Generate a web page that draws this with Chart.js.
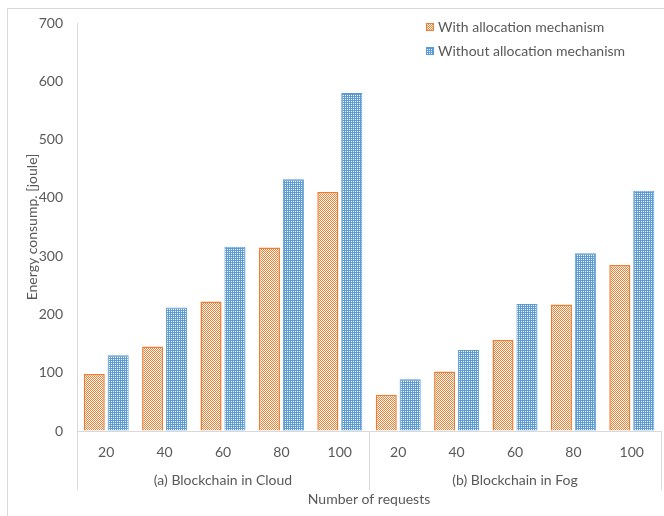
<!DOCTYPE html>
<html>
<head>
<meta charset="utf-8">
<script src="https://cdn.jsdelivr.net/npm/chart.js@4.4.1/dist/chart.umd.min.js"></script>
<style>
  body { margin: 0; background: #fff; }
</style>
</head>
<body>
<canvas id="energy" width="664" height="516"></canvas>
<script>
// number of requests, repeated for both deployments
const requests = ['20', '40', '60', '80', '100', '20', '40', '60', '80', '100'];
const groups = ['(a) Blockchain in Cloud', '(b) Blockchain in Fog'];
const with_alloc = [98, 145, 222, 315, 410, 62, 102, 156, 217, 285];
const without_alloc = [130, 212, 316, 432, 580, 89, 139, 218, 305, 412];

const text_color = '#595959';
const line_color = '#D9D9D9';
const orange = '#ED7D31';
const blue = '#5B9BD5';
const font = { family: 'Lato', size: 14 };

/**
 * Builds a small repeating fill pattern.
 *
 * @param {Number} w        tile width
 * @param {Number} h        tile height
 * @param {String} bg       tile background
 * @param {String} fg       dot colour
 * @param {Array}  dots     [x, y] pixels painted with fg
 */
function make_pattern(w, h, bg, fg, dots) {
    const tile = document.createElement('canvas');
    tile.width = w;
    tile.height = h;
    const c = tile.getContext('2d');
    c.fillStyle = bg;
    c.fillRect(0, 0, w, h);
    c.fillStyle = fg;
    dots.forEach(([x, y]) => c.fillRect(x, y, 1, 1));
    return c.createPattern(tile, 'repeat');
}

const checker = make_pattern(2, 2, '#ffffff', orange, [[0, 0], [1, 1]]);
const dotted = make_pattern(2, 2, blue, '#ffffff', [[1, 1]]);

// frame around the figure and the legend in the top right corner
const decorations = {
    id: 'decorations',
    beforeDraw(chart) {
        const ctx = chart.ctx;
        ctx.save();
        ctx.strokeStyle = line_color;
        ctx.lineWidth = 1;
        ctx.strokeRect(7.5, 8.5, 700, 600);
        ctx.restore();
    },
    afterDraw(chart) {
        const ctx = chart.ctx;
        ctx.save();
        ctx.font = font.size + 'px ' + font.family;
        ctx.textBaseline = 'middle';
        chart.data.datasets.forEach((ds, i) => {
            const y = 27 + i * 24;
            ctx.fillStyle = ds.backgroundColor;
            ctx.fillRect(426, y - 4, 8, 8);
            ctx.strokeStyle = ds.borderColor;
            ctx.lineWidth = 1;
            ctx.strokeRect(426.5, y - 3.5, 7, 7);
            ctx.fillStyle = text_color;
            ctx.fillText(ds.label, 438, y);
        });
        ctx.restore();
    }
};

const canvas = document.getElementById('energy');

new Chart(canvas, {
    type: 'bar',
    data: {
        labels: requests,
        datasets: [{
            label: 'With allocation mechanism',
            data: with_alloc,
            backgroundColor: checker,
            borderColor: orange,
            borderWidth: 1.5,
        }, {
            label: 'Without allocation mechanism',
            data: without_alloc,
            backgroundColor: dotted,
            borderColor: blue,
            borderWidth: 1,
        }]
    },
    options: {
        responsive: false,
        animation: false,
        devicePixelRatio: 1,
        categoryPercentage: 0.82,
        barPercentage: 0.88,
        layout: { padding: { top: 23, right: 3, bottom: 4, left: 0 } },
        plugins: {
            legend: { display: false },
            tooltip: { enabled: false },
        },
        scales: {
            y: {
                min: 0,
                max: 700,
                ticks: { stepSize: 100, color: text_color, font: font, padding: 14 },
                grid: { drawOnChartArea: false, drawTicks: false },
                border: { color: line_color },
                title: {
                    display: true,
                    text: 'Energy consump. [joule]',
                    color: text_color,
                    font: font,
                    padding: { top: 24, bottom: 0 },
                },
                afterFit: (s) => { s.width = 77; },
            },
            x: {
                type: 'category',
                position: 'bottom',
                weight: 0,
                offset: true,
                ticks: { color: text_color, font: font, padding: -22, maxRotation: 0, autoSkip: false },
                grid: {
                    offset: true,
                    drawOnChartArea: false,
                    tickLength: 35,
                    color: (ctx) => (ctx.index === undefined || ctx.index % 5 === 0) ? line_color : 'rgba(0,0,0,0)',
                },
                border: { color: line_color },
                afterFit: (s) => { s.height = 35; },
            },
            group: {
                type: 'category',
                position: 'bottom',
                labels: groups,
                weight: 1,
                offset: true,
                ticks: { color: text_color, font: font, padding: -18, maxRotation: 0 },
                grid: { offset: true, drawOnChartArea: false, tickLength: 24, color: line_color },
                border: { display: false },
                title: {
                    display: true,
                    text: 'Number of requests',
                    color: text_color,
                    font: font,
                    padding: { top: 0, bottom: 4 },
                },
                afterFit: (s) => { s.height = 46; },
            },
        },
    },
    plugins: [decorations],
});
</script>
</body>
</html>
